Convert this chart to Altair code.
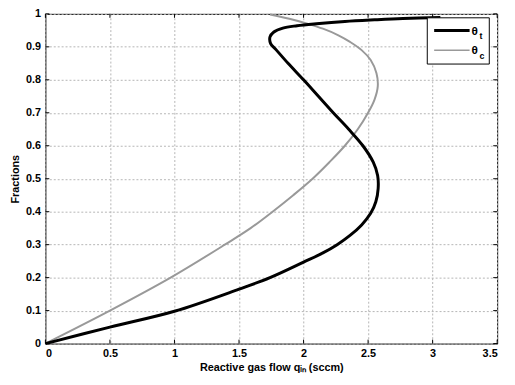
import altair as alt
import pandas as pd

# theta_t (black) curve
tt_x = [0.0, 0.5, 1.0, 1.5, 1.74, 2.0, 2.15, 2.26, 2.36, 2.45, 2.52, 2.56, 2.578, 2.574, 2.54,
        2.46, 2.35, 2.23, 2.115, 2.0, 1.88, 1.79, 1.745, 1.74, 1.77, 1.84, 1.95, 2.1, 2.32, 2.55,
        2.77, 3.06]
tt_y = [0.0, 0.05, 0.098, 0.165, 0.2, 0.247, 0.275, 0.3, 0.328, 0.36, 0.395, 0.43, 0.47, 0.51, 0.55,
        0.6, 0.65, 0.7, 0.75, 0.8, 0.85, 0.89, 0.91, 0.93, 0.945, 0.957, 0.964, 0.97, 0.977, 0.982,
        0.986, 0.989]

# theta_c (gray) curve
tc_x = [0.0, 0.5, 0.97, 1.39, 1.59, 1.76, 1.92, 2.07, 2.2, 2.32, 2.42, 2.50, 2.55, 2.575, 2.565,
        2.52, 2.45, 2.36, 2.27, 2.15, 2.03, 1.89, 1.74]
tc_y = [0.0, 0.1, 0.2, 0.3, 0.35, 0.4, 0.45, 0.5, 0.55, 0.6, 0.65, 0.7, 0.74, 0.78, 0.82,
        0.86, 0.89, 0.915, 0.935, 0.955, 0.97, 0.985, 0.998]

x_ticks = [0, 0.5, 1, 1.5, 2, 2.5, 3, 3.5]
y_ticks = [0, 0.1, 0.2, 0.3, 0.4, 0.5, 0.6, 0.7, 0.8, 0.9, 1]

df_t = pd.DataFrame({"x": tt_x, "y": tt_y, "i": range(len(tt_x))})
df_c = pd.DataFrame({"x": tc_x, "y": tc_y, "i": range(len(tc_x))})
df_xt = pd.DataFrame({"x": x_ticks})
df_yt = pd.DataFrame({"y": y_ticks})

FONT = "Liberation Sans"
W, H = 459, 335

xs = alt.Scale(domain=[0, 3.5], nice=False)
ys = alt.Scale(domain=[0, 1], nice=False)


def make_x_axis():
    return alt.Axis(values=x_ticks, format="~g", title="Reactive gas flow qᵢₙ (sccm)",
                    grid=True, gridDash=[2, 2], gridColor="#b5b5b5", domain=False, ticks=False,
                    labelColor="black", labelFont=FONT, labelFontSize=11,
                    labelFontWeight="bold", titleFont=FONT, titleFontSize=11, titleFontWeight="bold",
                    titleColor="black", labelPadding=4, titlePadding=3)


def make_y_axis():
    return alt.Axis(values=y_ticks, format="~g", title="Fractions",
                    grid=True, gridDash=[2, 2], gridColor="#b5b5b5", domain=False, ticks=False,
                    labelColor="black", labelFont=FONT, labelFontSize=11,
                    labelFontWeight="bold", titleFont=FONT, titleFontSize=11, titleFontWeight="bold",
                    titleColor="black", labelPadding=5, titlePadding=5)


def X(field):
    return alt.X(field, scale=xs, axis=make_x_axis())


def Y(field):
    return alt.Y(field, scale=ys, axis=make_y_axis())


line_c = alt.Chart(df_c).mark_line(color="#999999", strokeWidth=2, interpolate="catmull-rom").encode(
    x=X("x:Q"), y=Y("y:Q"), order="i:Q")
line_t = alt.Chart(df_t).mark_line(color="black", strokeWidth=3, interpolate="catmull-rom").encode(
    x=X("x:Q"), y=Y("y:Q"), order="i:Q")

# inward ticks on all four sides (MATLAB style)
tick_b = alt.Chart(df_xt).mark_rule(color="black", strokeWidth=1).encode(
    x=X("x:Q"), y=alt.value(H), y2=alt.value(H - 4))
tick_t = alt.Chart(df_xt).mark_rule(color="black", strokeWidth=1).encode(
    x=X("x:Q"), y=alt.value(0), y2=alt.value(4))
tick_l = alt.Chart(df_yt).mark_rule(color="black", strokeWidth=1).encode(
    y=Y("y:Q"), x=alt.value(0), x2=alt.value(4))
tick_r = alt.Chart(df_yt).mark_rule(color="black", strokeWidth=1).encode(
    y=Y("y:Q"), x=alt.value(W), x2=alt.value(W - 4))

one = pd.DataFrame({"a": [0]})
# legend (pixel positions inside plot area)
leg_box = alt.Chart(one).mark_rect(fill="white", stroke="black", strokeWidth=1).encode(
    x=alt.value(388), x2=alt.value(451), y=alt.value(4), y2=alt.value(51))
leg_t = alt.Chart(one).mark_rule(color="black", strokeWidth=3).encode(
    x=alt.value(395), x2=alt.value(431), y=alt.value(17))
leg_c = alt.Chart(one).mark_rule(color="#999999", strokeWidth=1.5).encode(
    x=alt.value(395), x2=alt.value(431), y=alt.value(37))


def txt(s, size, x, y):
    return alt.Chart(one).mark_text(
        text=s, font=FONT, fontSize=size, fontWeight="bold", align="left", baseline="middle",
        color="black").encode(x=alt.value(x), y=alt.value(y))


chart = alt.layer(
    line_c, line_t, tick_b, tick_t, tick_l, tick_r, leg_box, leg_t, leg_c,
    txt("θ", 12, 433, 17), txt("t", 9, 441, 23),
    txt("θ", 12, 433, 37), txt("c", 9, 441, 43),
).properties(
    width=W, height=H,
    autosize=alt.AutoSizeParams(type="none"),
    padding={"left": 38, "top": 3, "right": 10, "bottom": 31},
    background="white",
).configure_view(stroke="black", strokeWidth=1)

chart.save("out.html", embed_options={"renderer": "svg", "actions": False})
